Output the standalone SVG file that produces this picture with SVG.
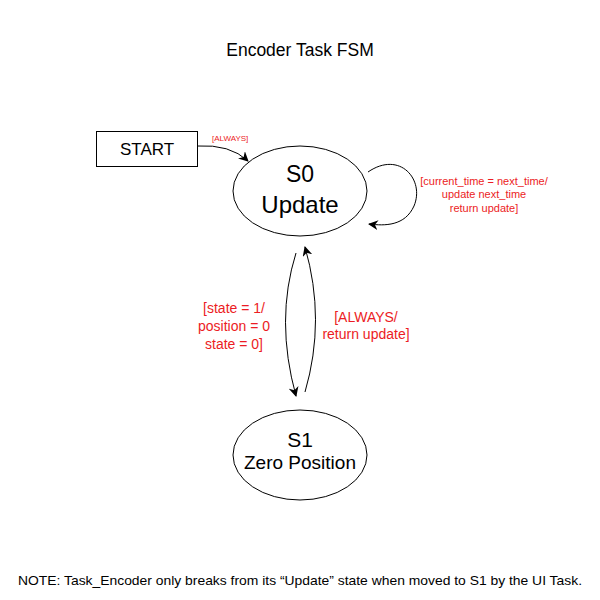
<svg xmlns="http://www.w3.org/2000/svg" width="600" height="600" viewBox="0 0 600 600">
<style>
text{font-family:"Liberation Sans",Arial,sans-serif;fill:#000}
.red{fill:#ec1c24}
.node{fill:#fff;stroke:#000;stroke-width:1}
.edge{fill:none;stroke:#000;stroke-width:1}
</style>
<defs>
<marker id="ah" viewBox="0 0 10 10" refX="9" refY="5" markerWidth="10" markerHeight="10" markerUnits="userSpaceOnUse" orient="auto">
<path d="M0,0 L10,5 L0,10 L3,5 Z" fill="#000"/>
</marker>
</defs>
<rect width="600" height="600" fill="#fff"/>
<text x="300" y="56" font-size="17.5" text-anchor="middle">Encoder Task FSM</text>
<g id="start">
<rect class="node" x="96.5" y="131.5" width="101" height="35" stroke="#444"/>
<text x="147" y="155" font-size="17" text-anchor="middle">START</text>
</g>
<g id="s0">
<ellipse class="node" cx="300" cy="191" rx="67" ry="45"/>
<text x="300" y="182" font-size="23" text-anchor="middle">S0</text>
<text x="300" y="213" font-size="24" text-anchor="middle">Update</text>
</g>
<g id="s1">
<ellipse class="node" cx="300" cy="455" rx="67" ry="45"/>
<text x="300" y="447" font-size="21" text-anchor="middle">S1</text>
<text x="300" y="469" font-size="19" text-anchor="middle">Zero Position</text>
</g>
<g id="connectors">
<path class="edge" d="M197,146 Q230,144 248,161" marker-end="url(#ah)"/>
<path class="edge" d="M368,172 C400,150 425,180 414,206 C405,226 385,226 369,224" marker-end="url(#ah)"/>
<path class="edge" d="M296,253 Q275,320 296,396" marker-end="url(#ah)"/>
<path class="edge" d="M305,392 Q326,320 305,247" marker-end="url(#ah)"/>
</g>
<g id="labels">
<text class="red" x="212" y="141" font-size="8">[ALWAYS]</text>
<text class="red" x="484" y="185" font-size="11" text-anchor="middle">[current_time = next_time/</text>
<text class="red" x="484" y="198" font-size="11" text-anchor="middle">update next_time</text>
<text class="red" x="484" y="212" font-size="11" text-anchor="middle">return update]</text>
<text class="red" x="234" y="313" font-size="14" text-anchor="middle">[state = 1/</text>
<text class="red" x="234" y="331" font-size="14" text-anchor="middle">position = 0</text>
<text class="red" x="234" y="349" font-size="14" text-anchor="middle">state = 0]</text>
<text class="red" x="366" y="322" font-size="14" text-anchor="middle">[ALWAYS/</text>
<text class="red" x="366" y="339" font-size="14" text-anchor="middle">return update]</text>
</g>
<text x="300" y="585" font-size="13" text-anchor="middle" textLength="564" lengthAdjust="spacingAndGlyphs">NOTE: Task_Encoder only breaks from its “Update” state when moved to S1 by the UI Task.</text>
</svg>
